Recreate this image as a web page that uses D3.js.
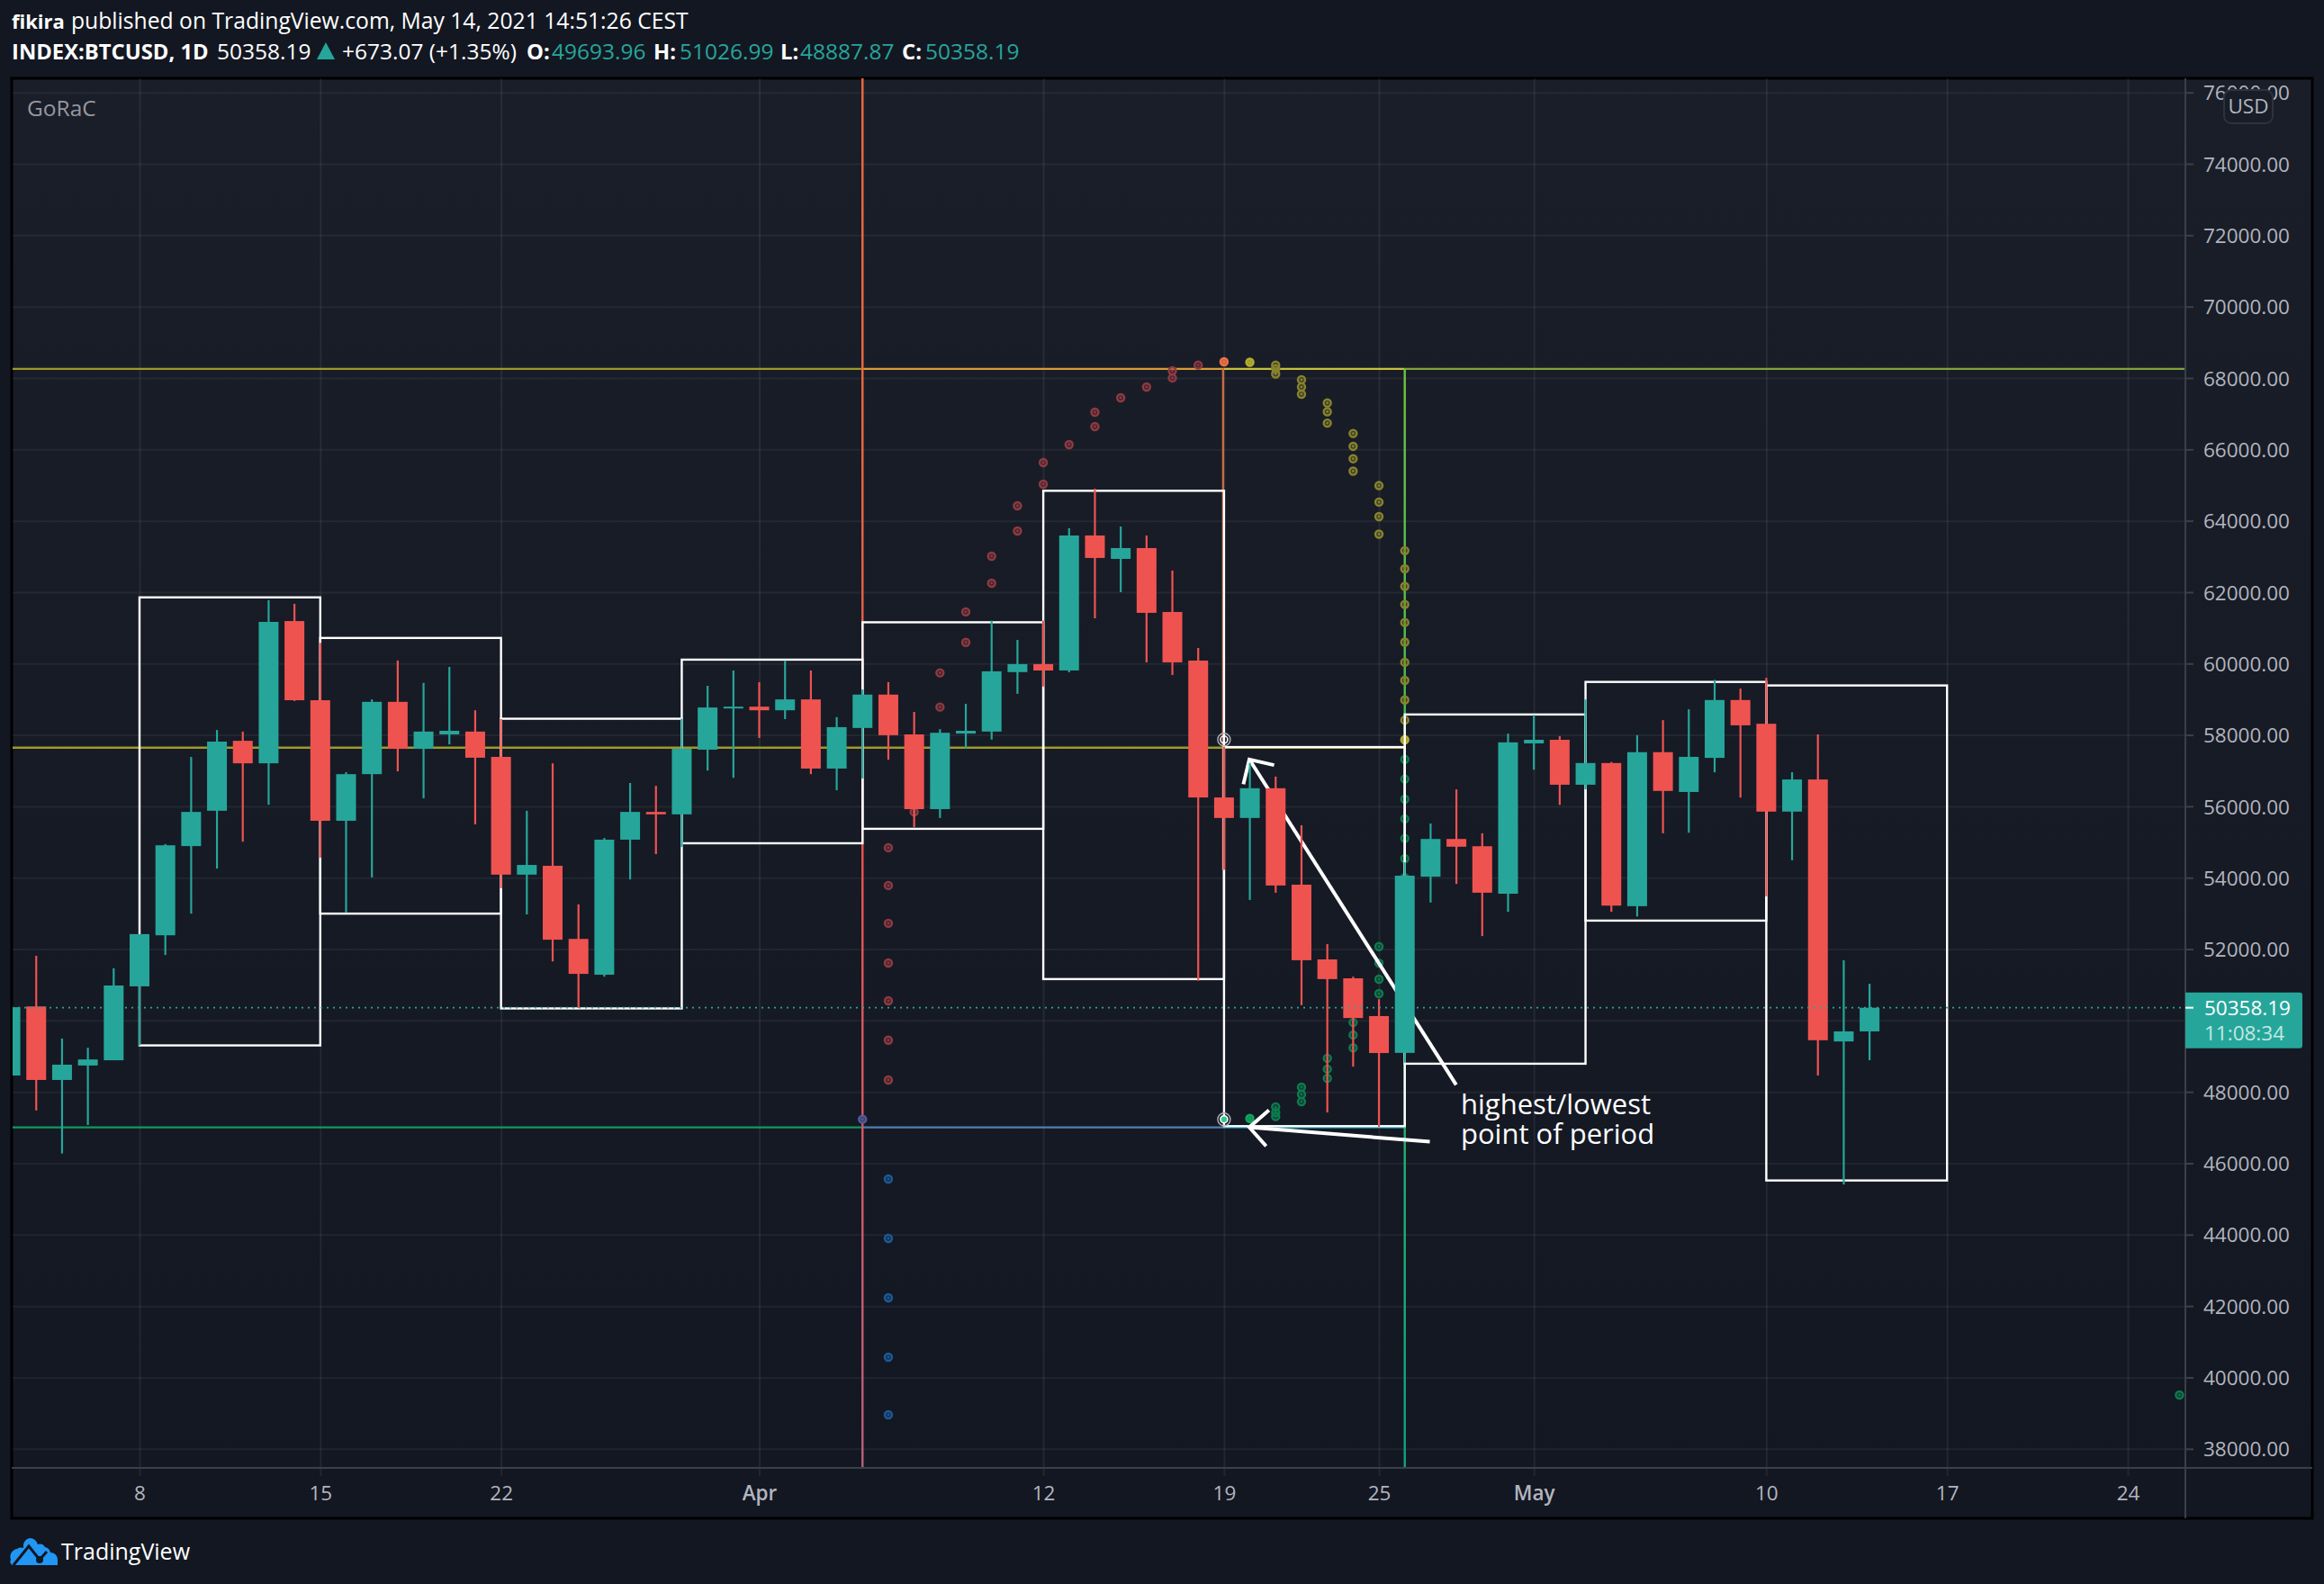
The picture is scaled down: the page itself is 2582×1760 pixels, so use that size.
<!DOCTYPE html>
<html>
<head>
<meta charset="utf-8">
<script src="https://cdnjs.cloudflare.com/ajax/libs/d3/7.8.5/d3.min.js"></script>
<style>
html, body { margin: 0; padding: 0; background: #131722; }
svg { display: block; }
text { font-family: "Open Sans", sans-serif; }
</style>
</head>
<body>
<script>
// Daily candles, first one is 3 March 2021
const opens = [48458,50394,48334,48739,48886,50957,52387,54886,55876,57835,57205,61190,58972,55595,56901,58927,57610,58015,58094,57385,54086,54334,52285,51283,55066,55843,55775,57587,58758,
	58792,58691,58995,57058,58195,59130,58015,55921,58038,58094,59760,59985,59806,63588,62932,63235,61445,60083,56248,55674,56507,53805,51711,51182,50124,49093,54028,55085,54882,53551,
	57763,57864,56605,57213,53203,57517,56402,57357,58978,58313,55852,56752,49413,49693.96];
const highs = [52600,51813,49494,49235,51463,52420,54942,57385,58139,58094,61775,61674,60582,56957,58995,60086,59456,59906,58691,58443,55876,57205,53253,55111,56653,56574,58454,59377,59805,
	59479,60086,59805,58499,59276,59479,58646,58161,58871,61201,60661,61201,63790,64899,63840,63588,62605,60436,57666,57216,56833,55471,52139,51227,50597,54435,55519,56474,55244,58038,
	58559,57965,58993,57242,57994,58414,58718,59543,59297,59601,56955,58013,51687,51026.99];
const lows = [48100,47479,46274,47073,48886,49302,51835,52994,54255,55010,56045,58950,54559,53017,54008,56979,56225,57734,55494,53704,52972,51655,50349,51227,53951,54661,54863,57002,56799,
	57914,58443,56901,56450,56777,57306,55415,55674,57610,57869,59152,59355,59755,61268,61999,60033,59680,51115,54222,53377,53580,50428,47422,48706,47017,48818,53305,53826,52364,53044,
	57024,56040,56475,53044,52914,55244,55259,56952,56243,53478,54490,48456,45405,48887.87];
const closes = [50372,48334,48762,48908,50980,52420,54908,55843,57813,57205,61167,58972,55595,56901,58927,57610,58094,58116,57362,54086,54357,52263,51306,55066,55843,55775,57610,58769,58792,
	58691,58995,57058,58218,59130,57993,55921,58060,58116,59783,59985,59805,63588,62958,63235,61420,60033,56248,55674,56507,53782,51689,51160,50068,49088,54057,55085,54868,53580,57792,
	57864,56605,57213,53218,57517,56431,57386,58978,58269,55852,56752,49447,49694,50358.19];

// Weekly period boxes: start day, end day, highest, lowest
const boxStarts = ['2021-03-08','2021-03-15','2021-03-22','2021-03-29','2021-04-05','2021-04-12','2021-04-19','2021-04-26','2021-05-03','2021-05-10'];
const boxEnds = ['2021-03-15','2021-03-22','2021-03-29','2021-04-05','2021-04-12','2021-04-19','2021-04-26','2021-05-03','2021-05-10','2021-05-17'];
const boxHighs = [61854,60717,58454,60109,61156,64840,57660,58573,59485,59386];
const boxLows = [49302,52994,50338,54965,55370,51160,47040,48789,52798,45518];

// Projected dots, [day, price]
const redDots = [['2021-04-06',54841],['2021-04-06',53782],['2021-04-06',52724],['2021-04-06',51610],['2021-04-06',50552],['2021-04-06',49448],['2021-04-06',48334],
	['2021-04-07',55842],['2021-04-08',59738],['2021-04-08',58780],['2021-04-09',61448],['2021-04-09',60593],['2021-04-10',63008],['2021-04-10',62252],
	['2021-04-11',64420],['2021-04-11',63714],['2021-04-12',65630],['2021-04-12',65025],['2021-04-13',66135],['2021-04-14',67042],['2021-04-14',66639],
	['2021-04-15',67446],['2021-04-16',67748],['2021-04-17',68202],['2021-04-17',68001],['2021-04-18',68362]];
const orangeDots = [['2021-04-19',68454]];
const purpleDots = [['2021-04-05',47232]];
const blueDots = [['2021-04-06',45559],['2021-04-06',43895],['2021-04-06',42231],['2021-04-06',40567],['2021-04-06',38953]];
const yellowDots = [['2021-04-20',68440],['2021-04-26',57864]];
const oliveDots = [['2021-04-21',68358],['2021-04-21',68256],['2021-04-21',68112],
	['2021-04-22',67952],['2021-04-22',67750],['2021-04-22',67547],['2021-04-23',67301],['2021-04-23',67055],['2021-04-23',66737],
	['2021-04-24',66447],['2021-04-24',66085],['2021-04-24',65738],['2021-04-24',65391],['2021-04-25',64985],['2021-04-25',64522],['2021-04-25',64117],['2021-04-25',63625],
	['2021-04-26',63162],['2021-04-26',62655],['2021-04-26',62163],['2021-04-26',61656],['2021-04-26',61150],['2021-04-26',60600],['2021-04-26',60035],['2021-04-26',59529],['2021-04-26',58979],['2021-04-26',58414]];
const greenDots = [['2021-04-26',57314],['2021-04-26',56764],['2021-04-26',56199],['2021-04-26',55649],['2021-04-26',55100],['2021-04-26',54535],['2021-04-26',54000],
	['2021-04-25',52071],['2021-04-25',51608],['2021-04-25',51157],['2021-04-25',50754],['2021-04-24',49944],['2021-04-24',49595],['2021-04-24',49235],
	['2021-04-23',48942],['2021-04-23',48637],['2021-04-23',48379],['2021-04-22',48131],['2021-04-22',47928],['2021-04-22',47725],
	['2021-04-21',47579],['2021-04-21',47423],['2021-04-21',47311],['2021-05-26',39508]];
const brightGreenDots = [['2021-04-20',47254]];
const whiteRings = [['2021-04-19',57869],['2021-04-19',47231]];

// Arrows, [days after 8 March, price]
const arrowShafts = [[[42.98,57314],[50.99,48196]], [[42.98,47009],[49.97,46603]]];
const arrowHeads = [[[42.75,56619],[42.98,57314],[43.94,57155]], [[43.74,47488],[42.98,47009],[43.63,46480]]];

const priceTicks = [76000,74000,72000,70000,68000,66000,64000,62000,60000,58000,56000,54000,52000,50000,48000,46000,44000,42000,40000,38000];
const timeTicks = ['2021-03-08','2021-03-15','2021-03-22','2021-04-01','2021-04-12','2021-04-19','2021-04-25','2021-05-01','2021-05-10','2021-05-17','2021-05-24'];
const timeLabels = ['8','15','22','Apr','12','19','25','May','10','17','24'];

const lastPrice = 50358.19;
const hiddenLabel = 50000; // covered by the price tag in the original
const highLevel = 68256, midLevel = 57644, lowLevel = 47006;

const W = 2582, H = 1760;
const frame = { l: 13, t: 87, r: 2569, b: 1687 };
const axisX = 2428, axisY = 1631;
const teal = '#26a69a', red = '#ef5350';

const parseDay = d3.utcParse('%Y-%m-%d');
const x = d3.scaleUtc().domain([parseDay('2021-03-08'), parseDay('2021-05-24')]).range([155, 2364]);
const y = d3.scaleLinear().domain([38000, 76000]).range([1609.8, 102.7]);
const dx = (d) => x(parseDay(d));
const fromDays = (n) => x(new Date(Date.UTC(2021, 2, 8) + n * 864e5));

const svg = d3.select('body').append('svg').attr('width', W).attr('height', H).attr('viewBox', `0 0 ${W} ${H}`);
const defs = svg.append('defs');

function gradient(id, stops, x1, y1, x2, y2, units) {
	let g = defs.append('linearGradient').attr('id', id)
		.attr('x1', x1).attr('y1', y1).attr('x2', x2).attr('y2', y2);
	if (units) g.attr('gradientUnits', units);
	stops.forEach((s) => g.append('stop').attr('offset', s[0]).attr('stop-color', s[1]));
}
gradient('plotBg', [[0, '#1a1e29'], [1, '#131722']], 0, 0, 0, 1);
gradient('apr5', [[0, '#f0693c'], [0.25, '#ee6a3e'], [0.55, '#ef5350'], [1, '#b9607c']], 0, frame.t, 0, axisY, 'userSpaceOnUse');
gradient('apr19', [[0, '#c96c42'], [0.6, '#c8683f'], [1, '#d4584a']], 0, y(highLevel), 0, y(lows[47]), 'userSpaceOnUse');
gradient('apr26', [[0, '#6fc23f'], [0.4, '#35c255'], [1, '#0fa184']], 0, y(highLevel), 0, axisY, 'userSpaceOnUse');

defs.append('clipPath').attr('id', 'plotClip').append('rect')
	.attr('x', frame.l + 1).attr('y', frame.t).attr('width', axisX - frame.l - 1).attr('height', axisY - frame.t);

// Frame and plot background
svg.append('rect').attr('x', frame.l).attr('y', frame.t).attr('width', frame.r - frame.l).attr('height', frame.b - frame.t)
	.attr('fill', 'url(#plotBg)').attr('stroke', '#000').attr('stroke-width', 3);

// Grid from the axes
const gridY = svg.append('g').attr('transform', `translate(${frame.l + 1},0)`)
	.call(d3.axisRight(y).tickValues(priceTicks).tickSize(axisX - frame.l - 1).tickFormat(''));
gridY.select('.domain').remove();
gridY.selectAll('line').attr('stroke', 'rgba(255,255,255,0.055)').attr('stroke-width', 2);

const gridX = svg.append('g').attr('transform', `translate(0,${frame.t})`)
	.call(d3.axisBottom(x).tickValues(timeTicks.map(parseDay)).tickSize(axisY - frame.t + 9).tickFormat(''));
gridX.select('.domain').remove();
gridX.selectAll('line').attr('stroke', 'rgba(255,255,255,0.065)').attr('stroke-width', 2);

const plot = svg.append('g').attr('clip-path', 'url(#plotClip)');

// Level lines
function hline(level, from, to, color) {
	plot.append('line').attr('x1', from).attr('x2', to).attr('y1', y(level)).attr('y2', y(level))
		.attr('stroke', color).attr('stroke-width', 2.4);
}
const dApr5 = dx('2021-04-05'), dApr19 = dx('2021-04-19'), dApr26 = dx('2021-04-26');
hline(highLevel, frame.l, dApr5, '#9d9a2c');
hline(highLevel, dApr5, dApr19, '#d99b37');
hline(highLevel, dApr19, dApr26, '#c5c23b');
hline(highLevel, dApr26, axisX, '#7fa23a');
hline(midLevel, frame.l, dApr26, '#9d9a2c');
hline(lowLevel, frame.l, dApr5, '#0f9a5c');
hline(lowLevel, dApr5, dApr19, '#4e80b0');
hline(lowLevel, dApr19, dApr26, '#1798ae');

// Vertical period lines
function vline(xPos, y1, y2, paint) {
	plot.append('line').attr('x1', xPos).attr('x2', xPos + 0.01).attr('y1', y1).attr('y2', y2)
		.attr('stroke', paint).attr('stroke-width', 2.4);
}
vline(dApr5, frame.t, axisY, 'url(#apr5)');
vline(dApr19 - 1, y(highLevel), y(lows[47]), 'url(#apr19)');
vline(dApr26, y(highLevel), axisY, 'url(#apr26)');

// Dots with ring and centre
function drawDots(list, color, fill) {
	let g = plot.append('g').selectAll('g').data(list).enter().append('g')
		.attr('transform', (d) => `translate(${dx(d[0])},${y(d[1])})`);
	g.append('circle').attr('r', 4).attr('fill', fill || color).attr('fill-opacity', fill ? 1 : 0.35)
		.attr('stroke', color).attr('stroke-width', 2.4);
	g.append('circle').attr('r', 1.4).attr('fill', color);
}
drawDots(redDots, '#8f3a41');
drawDots(blueDots, '#1b5a97');
drawDots(oliveDots, '#87832d');
drawDots(greenDots, '#0c7c4d');
drawDots(orangeDots, '#ee7148', '#c9603f');
drawDots(yellowDots, '#b5ad2e', '#9c9a2c');
drawDots(brightGreenDots, '#0fa55f', '#0c8f52');
drawDots(purpleDots, '#565a9a', '#3d4470');

// Weekly boxes
plot.append('g').selectAll('rect').data(boxStarts).enter().append('rect')
	.attr('x', (d) => dx(d))
	.attr('y', (d, i) => y(boxHighs[i]))
	.attr('width', (d, i) => dx(boxEnds[i]) - dx(d))
	.attr('height', (d, i) => y(boxLows[i]) - y(boxHighs[i]))
	.attr('fill', 'none').attr('stroke', '#fff').attr('stroke-width', 2.4);

// Rings at the start of the highest period
const rings = plot.append('g').selectAll('g').data(whiteRings).enter().append('g')
	.attr('transform', (d) => `translate(${dx(d[0])},${y(d[1])})`);
rings.append('circle').attr('r', 7).attr('fill', 'none').attr('stroke', '#b0b2b8').attr('stroke-width', 1.4);
rings.append('circle').attr('r', 4).attr('fill', (d, i) => i ? '#2fc98a' : 'none').attr('stroke', '#fff').attr('stroke-width', 1.6);

// Annotation arrows sit under the candles
const arrowLine = d3.line().x((d) => fromDays(d[0])).y((d) => y(d[1]));
plot.append('g').selectAll('path').data(arrowShafts.concat(arrowHeads)).enter().append('path')
	.attr('d', arrowLine).attr('fill', 'none').attr('stroke', '#fff').attr('stroke-width', 4);

// Candles
const firstDay = parseDay('2021-03-03');
const candleDate = (i) => d3.utcDay.offset(firstDay, i);
const candleColor = (i) => closes[i] >= opens[i] ? teal : red;
const candles = plot.append('g').selectAll('g').data(opens).enter().append('g');
candles.append('line')
	.attr('x1', (d, i) => x(candleDate(i))).attr('x2', (d, i) => x(candleDate(i)))
	.attr('y1', (d, i) => y(highs[i])).attr('y2', (d, i) => y(lows[i]))
	.attr('stroke', (d, i) => candleColor(i)).attr('stroke-width', 2.2);
candles.append('rect')
	.attr('x', (d, i) => x(candleDate(i)) - 11).attr('width', 22)
	.attr('y', (d, i) => y(Math.max(opens[i], closes[i])))
	.attr('height', (d, i) => Math.max(2, Math.abs(y(opens[i]) - y(closes[i]))))
	.attr('fill', (d, i) => candleColor(i));

// Last price dotted line
plot.append('line').attr('x1', frame.l).attr('x2', axisX).attr('y1', y(lastPrice)).attr('y2', y(lastPrice))
	.attr('stroke', teal).attr('stroke-width', 1.8).attr('stroke-dasharray', '2 5');

// Axes
const axisColor = '#3b3f4a', labelColor = '#b2b5be';
svg.append('line').attr('x1', frame.l).attr('x2', frame.r).attr('y1', axisY).attr('y2', axisY).attr('stroke', axisColor).attr('stroke-width', 2);
svg.append('line').attr('x1', axisX).attr('x2', axisX).attr('y1', frame.t).attr('y2', frame.b).attr('stroke', axisColor).attr('stroke-width', 2);

const axisRight = svg.append('g').attr('transform', `translate(${axisX},0)`)
	.call(d3.axisRight(y).tickValues(priceTicks).tickSize(9).tickPadding(11)
		.tickFormat((d) => d === hiddenLabel ? '' : d.toFixed(2)));
axisRight.select('.domain').remove();
axisRight.selectAll('line').attr('stroke', axisColor).attr('stroke-width', 2);
axisRight.selectAll('text').attr('fill', labelColor).style('font-size', '22.5px').attr('dy', '0.36em');

const axisBottom = svg.append('g').attr('transform', `translate(0,${axisY})`)
	.call(d3.axisBottom(x).tickValues(timeTicks.map(parseDay)).tickSize(0).tickPadding(20).tickFormat((d, i) => timeLabels[i]));
axisBottom.select('.domain').remove();
axisBottom.selectAll('text').attr('fill', labelColor).style('font-size', '22.5px')
	.style('font-weight', (d, i) => isNaN(+timeLabels[i]) ? 600 : 400);

// Price tag
const tagY = y(lastPrice);
svg.append('path')
	.attr('d', `M${axisX},${tagY - 17}H2555a3,3 0 0 1 3,3V${tagY + 42}a3,3 0 0 1 -3,3H${axisX}Z`)
	.attr('fill', teal);
svg.append('line').attr('x1', axisX).attr('x2', axisX + 9).attr('y1', tagY).attr('y2', tagY).attr('stroke', '#fff').attr('stroke-width', 2);
svg.append('text').attr('x', 2449).attr('y', tagY).attr('dy', '0.36em').attr('fill', '#fff').style('font-size', '22.5px').text(d3.format('.2f')(lastPrice));
svg.append('text').attr('x', 2449).attr('y', tagY + 28).attr('dy', '0.36em').attr('fill', '#c3e8e4').style('font-size', '22.5px').text('11:08:34');

// USD badge
svg.append('rect').attr('x', 2471).attr('y', 100).attr('width', 54).attr('height', 37).attr('rx', 8)
	.attr('fill', '#191d28').attr('stroke', '#2e323d').attr('stroke-width', 2);
svg.append('text').attr('x', 2498).attr('y', 118).attr('dy', '0.36em').attr('text-anchor', 'middle').attr('fill', labelColor).style('font-size', '22.5px').text('USD');

// Study title
svg.append('text').attr('x', 30).attr('y', 120).attr('dy', '0.36em').attr('fill', '#9598a1').style('font-size', '24.5px').text('GoRaC');

// Annotation text
const note = svg.append('g').attr('fill', '#fff').style('font-size', '31px');
note.append('text').attr('x', 1623).attr('y', 1238).text('highest/lowest');
note.append('text').attr('x', 1623).attr('y', 1271).text('point of period');

// Header
function head(xPos, yPos, str, color, weight, size) {
	svg.append('text').attr('x', xPos).attr('y', yPos).attr('fill', color)
		.style('font-size', (size || (weight ? 23.8 : 24.5)) + 'px').style('font-weight', weight || 400).text(str);
}
head(13, 32, 'fikira', '#fff', 700, 22);
head(79, 32, 'published on TradingView.com, May 14, 2021 14:51:26 CEST', '#fff', 400, 24.7);
head(13, 66, 'INDEX:BTCUSD, 1D', '#fff', 700);
head(241, 66, '50358.19', '#fff');
svg.append('path').attr('d', 'M352,66L362,47L372,66Z').attr('fill', teal);
head(380, 66, '+673.07 (+1.35%)', '#fff');
head(585, 66, 'O:', '#fff', 700);
head(613, 66, '49693.96', teal);
head(726, 66, 'H:', '#fff', 700);
head(755, 66, '51026.99', teal);
head(867, 66, 'L:', '#fff', 700);
head(889, 66, '48887.87', teal);
head(1002, 66, 'C:', '#fff', 700);
head(1028, 66, '50358.19', teal);

// TradingView logo
svg.append('path')
	.attr('d', 'M12,1733a9,9 0 0 1 7,-12a8,8 0 0 1 7,-1a9,9 0 0 1 7,-11a9,9 0 0 1 9,7a7,7 0 0 1 8,3a8,8 0 0 1 6,6a8,8 0 0 1 8,8V1739H14a4,4 0 0 1 -2,-6Z')
	.attr('fill', '#2196f3');
svg.append('path').attr('d', 'M15,1739L32,1718L44,1733L52,1724').attr('fill', 'none').attr('stroke', '#131722').attr('stroke-width', 3);
svg.append('circle').attr('cx', 44).attr('cy', 1733).attr('r', 4).attr('fill', '#131722');
svg.append('text').attr('x', 68).attr('y', 1733).attr('fill', '#fff').style('font-size', '25px').text('TradingView');
</script>
</body>
</html>
